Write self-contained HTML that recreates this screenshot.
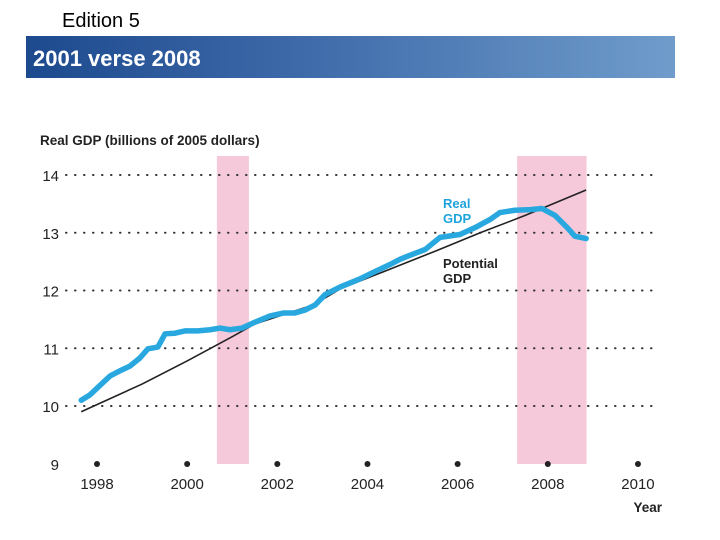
<!DOCTYPE html>
<html><head><meta charset="utf-8"><style>
body{margin:0;width:720px;height:540px;background:#fff;overflow:hidden;font-family:"Liberation Sans",sans-serif;position:relative}
#ed{position:absolute;left:62px;top:10px;font-size:20px;color:#000}
#bar{position:absolute;left:26px;top:36px;width:649px;height:42px;background:linear-gradient(90deg,#1d4a8e 0%,#3c68a8 40%,#6f9ccb 100%)}
#bar span{position:absolute;left:7px;top:10px;color:#fff;font-weight:bold;font-size:22px}
svg{position:absolute;left:0;top:0}
</style></head><body>
<div id="ed">Edition 5</div>
<div id="bar"><span>2001 verse 2008</span></div>
<svg id="chart" width="720" height="540"></svg>
<script>
const yTicks=[9,10,11,12,13,14];
const xTicks=[1998,2000,2002,2004,2006,2008,2010];
const recessions=[[2000.66,2001.37],[2007.32,2008.86]];
const realYears=[1997.65,1997.84,1998.07,1998.29,1998.51,1998.73,1998.95,1999.13,1999.35,1999.51,1999.73,1999.95,2000.24,2000.51,2000.73,2000.95,2001.22,2001.5,2001.84,2002.13,2002.39,2002.61,2002.84,2003.06,2003.39,2003.83,2004.17,2004.5,2004.72,2004.94,2005.28,2005.61,2006.05,2006.39,2006.72,2006.94,2007.27,2007.61,2007.87,2008.16,2008.43,2008.6,2008.85];
const realGDP=[10.10,10.19,10.36,10.52,10.61,10.69,10.83,10.99,11.02,11.25,11.26,11.30,11.30,11.32,11.35,11.32,11.35,11.45,11.56,11.61,11.61,11.66,11.75,11.93,12.06,12.20,12.33,12.45,12.54,12.61,12.71,12.92,12.97,13.09,13.23,13.35,13.39,13.40,13.42,13.30,13.09,12.94,12.90];
const potYears=[1997.65,1999.0,2000.0,2001.0,2001.5,2002.8,2003.4,2004.5,2005.5,2006.5,2007.5,2008.85];
const potGDP=[9.90,10.38,10.78,11.20,11.42,11.75,12.03,12.37,12.68,13.0,13.3,13.74];
const X=v=>97+(v-1998)*45.08;
const Y=v=>406-(v-10)*57.75;
const svg=document.getElementById('chart');
const NS='http://www.w3.org/2000/svg';
function mk(t,a,txt){const e=document.createElementNS(NS,t);for(const k in a)e.setAttribute(k,a[k]);if(txt!=null)e.textContent=txt;svg.appendChild(e);return e;}
recessions.forEach(r=>{const e=mk('rect',{x:X(r[0]),y:156,width:X(r[1])-X(r[0]),height:464-156,fill:'#f5c9d9'});

});
yTicks.forEach(t=>{
 if(t>9){const g=mk('line',{x1:66,x2:660,y1:Y(t),y2:Y(t),stroke:'#333','stroke-width':2,'stroke-dasharray':'0.5 8.5','stroke-linecap':'round'});
 
 }
 const l=mk('text',{x:59,y:Y(t)+6,'text-anchor':'end','font-size':15,fill:'#222'},t);
 
 
});
xTicks.forEach(t=>{
 const d=mk('circle',{cx:X(t),cy:464,r:3,fill:'#222'});
 
 
 const l=mk('text',{x:X(t),y:489,'text-anchor':'middle','font-size':15,fill:'#222'},t);
 
 
});
const p=mk('polyline',{points:potYears.map((y,i)=>X(y)+','+Y(potGDP[i])).join(' '),fill:'none',stroke:'#222','stroke-width':1.6});


const r=mk('polyline',{points:realYears.map((y,i)=>X(y)+','+Y(realGDP[i])).join(' '),fill:'none',stroke:'#29a8e0','stroke-width':5.5,'stroke-linejoin':'round','stroke-linecap':'round'});


const lab=[['Real',443,208,'#1fa3dc','real-gdp-label'],['GDP',443,223,'#1fa3dc','real-gdp-label'],['Potential',443,268,'#222','potential-gdp-label'],['GDP',443,283,'#222','potential-gdp-label']];
lab.forEach(a=>{const e=mk('text',{x:a[1],y:a[2],'font-size':13,'font-weight':'bold',fill:a[3]},a[0]);

});
const yt=mk('text',{x:40,y:145,'font-size':13.5,'font-weight':'bold',fill:'#222'},'Real GDP (billions of 2005 dollars)');


const xt=mk('text',{x:662,y:512,'text-anchor':'end','font-size':13.5,'font-weight':'bold',fill:'#222'},'Year');


</script>
</body></html>
